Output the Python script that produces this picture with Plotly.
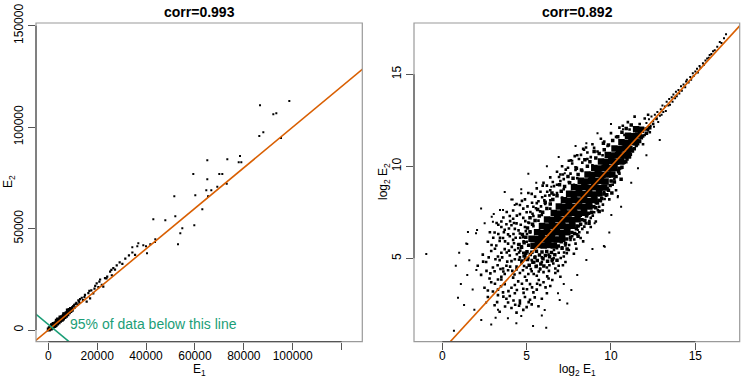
import plotly.graph_objects as go

# ---------------- Left panel: raw expression E1 vs E2 ----------------
raw_core = [(200,300),(600,900),(1000,700),(1300,1600),(1700,1200),(2000,2400),(2400,2000),
            (2700,3100),(3000,2600),(3300,3600),(3600,3200),(3900,4300),(4200,3800),(4500,4900),
            (4800,4500),(5100,5600),(5400,5000),(5700,6300),(6000,5700),(6300,6900),(6600,6400),
            (6900,7600),(7200,7000),(7500,8300),(7800,7800),(8100,9000),(8400,8700),(8700,9800),
            (9000,9400),(9300,10300),(9600,10000),(2200,3000),(3500,4500),(5000,6200),(6500,7800),
            (8000,9600),(1500,2300),(4000,5200),(2800,2300),(5500,5300)]
raw_mid_e1 = [10200,10900,11500,12000,12300,12800,13700,14200,15000,15700,16400,17100,17600,18400,
              19200,19800,20500,21200,21900,22500,23200,24100,25300,26000,26600,27300,28000,29200,
              30300,31500,33000,34400,35500,11200,13000,14800,16800,18900,20900,23800,25800,12600,
              10600,9800]
raw_mid_e2 = [11800,11200,13400,12500,14600,13300,15900,14800,17300,13950,18200,15600,19500,18100,
              21800,23000,21100,24900,22300,21340,25600,26270,28740,27000,30500,29800,31900,33300,
              32600,35200,36800,38200,37000,12900,15200,16200,19300,20400,23800,25400,29600,14100,
              12400,11300]
raw_out_e1 = [86630,98620,92070,93300,86340,87980,95220,65060,73250,78440,77910,78980,59330,69970,
              71200,65060,69150,73000,64650,66700,65350,60150,51560,63020,51970,42970,47880,59740,
              54830,54010,43780,43660,53070,36830,41740,38870,34370,36420,39980,40390]
raw_out_e2 = [110760,112870,106320,106810,95620,97450,94640,83650,84140,85760,82660,82660,76890,
              76890,76890,74280,70630,72110,68860,68860,65900,66390,65900,59490,56040,54560,54070,
              51610,50130,47660,44710,43380,42240,42730,42240,41750,40760,41260,41260,37810]

# reference lines (left): identity and the 95% cut line
ident_left = [-10000, 200000]
cut95_x = [-6000, 9000]
cut95_y = [8750, -6250]

# ---------------- Right panel: log2 E1 vs log2 E2 ----------------
log_core = [
 (5.41,5.68),(5.69,5.72),(6.01,5.69),(6.28,5.73),(6.61,5.7),
 (5.29,6.06),(5.61,6.03),(5.88,6.07),(6.21,6.04),(6.49,6.06),(6.79,6.02),(7.11,6.07),
 (5.62,6.41),(5.89,6.38),(6.22,6.42),(6.51,6.39),(6.79,6.41),(7.09,6.37),(7.41,6.42),
 (5.91,6.76),(6.19,6.73),(6.52,6.77),(6.78,6.74),(7.12,6.76),(7.39,6.72),(7.71,6.77),
 (6.21,7.11),(6.49,7.08),(6.81,7.12),(7.09,7.09),(7.42,7.11),(7.69,7.07),(8.02,7.12),
 (6.61,7.46),(6.88,7.43),(7.21,7.47),(7.49,7.44),(7.82,7.46),(8.09,7.42),(8.41,7.47),
 (6.91,7.81),(7.18,7.78),(7.52,7.82),(7.79,7.79),(8.11,7.81),(8.39,7.77),(8.72,7.82),
 (7.21,8.16),(7.49,8.13),(7.82,8.17),(8.09,8.14),(8.41,8.16),(8.68,8.12),(9.02,8.17),
 (7.52,8.51),(7.79,8.48),(8.12,8.52),(8.38,8.49),(8.71,8.51),(8.99,8.47),(9.31,8.52),
 (7.81,8.86),(8.09,8.83),(8.42,8.87),(8.69,8.84),(9.01,8.86),(9.29,8.82),(9.61,8.85),
 (8.21,9.21),(8.49,9.18),(8.82,9.22),(9.09,9.19),(9.41,9.21),(9.68,9.17),
 (8.61,9.56),(8.88,9.53),(9.21,9.57),(9.49,9.54),(9.81,9.56),(10.08,9.55),
 (9.01,9.91),(9.29,9.88),(9.62,9.92),(9.89,9.89),(10.21,9.91),
 (9.41,10.26),(9.69,10.23),(10.02,10.27),(10.29,10.24),(10.61,10.26),
 (9.81,10.61),(10.09,10.58),(10.42,10.62),(10.69,10.59),(11.01,10.6),
 (10.21,10.96),(10.49,10.93),(10.82,10.97),(11.09,10.94),
 (10.62,11.31),(10.89,11.28),(11.21,11.32),(11.49,11.3),
 (11.01,11.66),(11.29,11.63),(11.62,11.67),
 (11.49,12.01),(11.78,11.98)]

log_fringe = [
 (4.85,5.12),(5.05,4.93),(5.22,5.21),(5.37,4.78),(5.49,5.05),(5.63,4.88),(5.76,5.18),(5.84,4.69),
 (5.97,4.98),(6.11,5.15),(6.24,4.84),(6.36,5.08),(6.52,4.92),(6.67,5.19),(4.72,4.86),(5.15,4.62),
 (5.56,4.55),(6.02,4.58),(4.95,5.28),(6.8,4.9),(5.02,5.36),(5.31,5.33),(5.58,5.38),(5.91,5.34),
 (6.19,5.37),(6.47,5.32),(5.12,5.71),(6.88,5.67),(7.38,6.05),(7.68,6.4),(7.98,6.75),(8.28,7.1),
 (4.7,5.6),(4.85,5.85),(4.55,5.75),(4.95,6.15),(4.75,6.3),(5.2,6.45),(5.05,6.65),(5.35,6.85),
 (5.5,7.05),(5.2,7.2),(5.75,7.3),(5.95,7.5),(5.65,7.65),(6.2,7.7),(6.4,7.95),(6.1,8.05),(6.55,8.2),
 (6.8,8.4),(6.5,8.55),(7.05,8.65),(7.25,8.9),(6.95,9.0),(7.55,9.1),(7.75,9.35),(7.45,9.45),
 (8.05,9.55),(8.25,9.8),(7.95,9.9),(8.6,10.0),(8.75,10.25),(8.45,10.35),(9.1,10.45),(9.3,10.7),
 (9.0,10.8),(9.6,10.9),(9.85,11.15),(9.55,11.25),(10.1,11.4),(10.4,11.6),(10.65,11.85),
 (10.9,12.05),(11.2,12.25),
 (7.1,5.55),(7.3,5.8),(7.05,5.9),(7.6,6.15),(7.85,6.35),(7.95,6.6),(8.2,6.85),(8.45,7.05),
 (8.55,7.3),(8.85,7.5),(9.1,7.75),(9.2,8.0),(9.45,8.25),(9.75,8.45),(9.85,8.7),(9.95,8.95),
 (10.2,9.15),(10.3,9.45),(10.45,9.7),(10.65,9.95),(10.75,10.2),(10.95,10.4),(11.15,10.65),
 (11.25,10.9),(11.5,11.15),(11.7,11.35),(11.8,11.55),(12.1,11.8),(12.3,12.1),(7.4,5.5),(8.05,6.2),
 (8.7,6.9),(9.3,7.55),(10.05,8.55),(10.6,9.3),(8.68,7.45),(8.98,7.8),(9.28,8.15),(9.58,8.5),
 (10.01,9.2),(10.48,9.9),(10.88,10.25),(11.38,10.95),(11.88,11.65),(12.08,12.02)]

log_halo = [
 (3.4,2.1),(4.1,2.3),(4.8,2.2),(5.3,2.5),(3.9,2.6),(4.6,2.55),(5.7,2.4),(3.1,2.45),(4.4,2.05),(5.0,2.35),
 (2.7,2.9),(3.3,3.0),(3.8,2.8),(4.3,3.1),(4.9,2.9),(5.4,3.15),(5.9,2.8),(3.0,3.2),(4.6,2.7),(5.2,2.75),
 (6.2,3.1),(3.6,3.15),(4.0,2.95),
 (2.5,3.4),(2.9,3.7),(3.3,3.3),(3.7,3.6),(4.1,3.4),(4.5,3.75),(4.8,3.35),(5.2,3.6),(5.6,3.3),(6.0,3.7),
 (6.4,3.5),(3.5,3.85),(4.3,3.55),(5.0,3.8),(5.8,3.55),(2.7,3.25),
 (2.3,4.1),(2.8,3.9),(3.1,4.3),(3.5,4.0),(3.9,4.35),(4.2,3.95),(4.6,4.2),(4.9,4.0),(5.3,4.3),(5.6,4.05),
 (6.0,4.25),(6.3,3.9),(6.7,4.2),(7.0,4.0),(3.7,4.15),(4.4,4.4),(5.1,4.15),(5.8,4.4),(3.3,3.85),
 (2.1,4.6),(2.6,4.8),(3.0,4.5),(3.4,4.9),(3.8,4.6),(4.1,4.85),(4.4,4.55),(4.7,4.75),(5.0,4.5),(5.3,4.9),
 (5.6,4.6),(5.9,4.8),(6.2,4.5),(6.5,4.85),(6.9,4.6),(7.3,4.8),(3.6,4.45),(4.9,4.95),(5.8,4.45),(4.3,4.95),
 (6.7,4.45),
 (2.4,5.2),(2.9,5.4),(3.3,5.1),(3.7,5.5),(4.0,5.15),(4.3,5.45),(4.6,5.05),(4.8,5.3),(5.1,5.0),(5.5,5.1),
 (5.9,5.05),(6.3,5.2),(6.6,5.0),(6.9,5.3),(7.2,5.1),(7.5,5.45),(7.8,5.25),(3.5,5.3),(4.5,5.55),(6.8,5.55),
 (7.1,5.6),
 (2.7,5.9),(3.2,5.7),(3.6,6.1),(3.9,5.8),(4.2,6.0),(4.5,5.75),(4.8,6.15),(5.0,5.9),(7.3,5.7),(7.6,6.0),
 (7.9,5.8),(8.2,6.1),(4.0,6.2),(3.4,5.95),(7.7,6.2),(4.7,5.65),
 (3.1,6.4),(3.5,6.7),(3.9,6.3),(4.3,6.6),(4.6,6.35),(4.9,6.7),(5.2,6.4),(5.4,6.75),(8.0,6.3),(8.3,6.6),
 (8.6,6.4),(8.1,6.75),(3.7,6.55),(4.1,6.8),(8.8,6.7),
 (3.5,7.0),(4.0,7.3),(4.4,6.9),(4.8,7.2),(5.1,6.95),(5.4,7.3),(5.7,7.05),(5.9,7.35),(8.5,6.9),(8.8,7.2),
 (9.1,7.0),(8.6,7.35),(4.2,7.15),(4.6,7.4),(3.8,6.85),
 (4.2,7.6),(4.6,7.9),(5.0,7.5),(5.4,7.8),(5.8,7.55),(6.1,7.95),(6.4,7.7),(9.0,7.5),(9.3,7.8),(9.1,8.0),
 (4.8,7.7),(5.6,8.0),(9.5,7.6),(4.4,7.95),
 (4.9,8.2),(5.3,8.5),(5.7,8.1),(6.1,8.4),(6.4,8.15),(6.8,8.55),(7.1,8.3),(9.4,8.1),(9.7,8.4),(9.9,8.2),
 (9.6,8.6),(5.5,8.35),(6.6,8.45),(5.1,8.55),
 (5.6,8.8),(6.0,9.1),(6.4,8.7),(6.8,9.0),(7.2,8.75),(7.5,9.15),(7.8,9.0),(9.8,8.8),(10.1,9.0),(10.3,8.7),
 (6.2,8.95),(7.0,9.2),(10.0,9.2),
 (6.4,9.4),(6.8,9.7),(7.2,9.3),(7.6,9.6),(8.0,9.35),(8.3,9.75),(10.2,9.3),(10.5,9.6),(10.4,9.8),(7.0,9.55),
 (7.9,9.8),
 (7.1,10.0),(7.5,10.3),(7.9,9.95),(8.3,10.2),(8.6,10.4),(8.9,10.05),(10.6,9.9),(10.8,10.2),(10.7,10.4),
 (7.7,10.15),(8.1,10.4),
 (8.0,10.6),(8.4,10.9),(8.8,10.5),(9.2,10.8),(9.5,10.6),(11.1,10.5),(11.3,10.8),(11.0,11.0),(8.6,10.75),
 (9.0,11.0),
 (8.9,11.2),(9.4,11.5),(9.8,11.1),(10.1,11.4),(11.5,11.1),(11.7,11.4),(11.9,11.2),(9.6,11.35),(10.3,11.6),
 (10.0,11.8),(10.5,12.1),(10.8,11.7),(11.1,12.0),(12.0,11.7),(12.2,12.0),(12.3,11.85),(10.7,12.2),
 (11.0,12.4),(11.4,12.7),(11.7,12.3),(12.0,12.6),(12.5,12.3),(12.7,12.6),(12.2,12.8),
 (3.25,2.62),(3.72,2.38),(4.22,2.71),(4.55,2.42),(5.12,2.62),(5.48,2.88),(3.48,3.48),(3.92,3.22),
 (4.42,3.28),(4.72,3.62),(5.32,3.42),(5.72,3.82),(6.12,3.42),(2.85,4.18),(3.28,4.62),(3.62,4.28),
 (4.02,4.55),(4.28,4.12),(4.78,4.35),(5.18,4.62),(5.42,4.15),(5.72,4.28),(6.32,4.32),(6.58,4.72),
 (2.75,5.05),(3.12,5.52),(3.55,5.05),(3.82,5.32),(4.12,5.62),(4.42,5.22),(4.62,5.42),(4.92,5.12),
 (7.02,5.02),(7.38,5.28),(3.02,6.12),(3.32,6.32),(3.72,5.92),(4.22,6.32),(4.52,6.52),(4.82,5.92),
 (3.32,6.82),(3.62,7.22),(4.02,7.02),(4.42,7.32),(4.92,7.02),(5.22,7.52),(4.62,6.12),(5.02,6.32),
 (3.82,7.52),(4.72,8.12),(5.32,8.02),(5.92,8.32),(6.22,8.62),(6.62,8.92),(5.82,8.62),(6.92,9.42),
 (7.32,9.82),(7.62,10.32),(8.22,10.62),(8.52,11.02),
 (3.15,4.95),(3.45,4.42),(3.85,4.82),(4.15,4.32),(4.55,4.92),(4.85,4.58),(5.25,4.42),(5.45,4.78),
 (3.95,5.42),(4.25,5.82),(4.55,5.32),(4.35,6.12),(4.65,6.82),(4.95,6.48),(5.15,6.92),(4.25,6.92),
 (3.65,6.42),(3.95,6.62),(5.35,7.42),(5.05,7.82),(5.55,7.72),(5.85,7.82),(6.05,8.15),(6.35,8.42),
 (5.95,8.95),(6.55,9.15),(7.15,9.55),(7.45,9.92),(7.85,10.55),(8.35,10.95),(6.62,5.45),(7.22,5.32),
 (7.52,5.72),(7.82,6.02),(8.12,6.42),(8.42,6.72),(8.72,7.02),(8.92,7.32),(9.22,7.62),(9.52,7.92),
 (9.62,8.22),(7.95,5.52),(8.35,5.92),(6.35,4.62),(6.85,4.32),(7.15,4.62),(3.12,3.62),(2.62,4.32),
 (2.42,4.82),(2.92,5.72),(3.42,6.12),(2.82,6.42),(3.22,6.92),(4.82,3.12),(5.62,3.62),(6.52,3.82),
 (6.22,4.02),(5.02,3.32),(4.32,2.48),(3.62,2.92)]

log_sparse = [
 (-0.95,5.23),(0.69,1.07),(6.16,1.23),(5.38,1.32),(4.39,1.47),(3.16,1.77),(2.31,1.65),(0.93,2.86),
 (1.29,2.46),(1.48,4.09),(2.02,4.36),(1.52,6.43),(1.42,5.81),(2.06,6.54),(2.51,6.9),(3.0,6.99),
 (3.05,7.41),(3.6,7.63),(4.29,7.9),(4.09,8.2),(4.68,8.53),(3.89,1.74),(4.68,1.86),(6.07,2.19),
 (6.96,2.73),(7.41,2.55),(8.54,4.91),(9.63,5.63),(10.02,7.35),(10.41,8.39),(9.03,6.9),(8.04,6.54),
 (7.65,3.28),(6.86,3.1),(8.54,11.25),(10.71,12.01),(12.89,11.43),(5.57,9.11),(6.46,8.89),(7.26,9.62),
 (4.68,8.75),(7.71,10.3),(4.17,8.2),(3.42,7.63),(2.93,7.26),(2.0,6.36),(1.48,5.78),(9.58,5.67),
 (10.4,8.32),(2.9,1.4),(1.8,3.3),(1.1,3.6),(0.8,4.6),(1.9,2.2),(5.9,1.9),(7.2,3.6),(8.0,4.1),
 (8.9,5.5),(9.9,6.4),(10.6,7.8),(11.2,9.1),(11.6,9.9),(12.1,10.6),(3.3,2.2),(2.6,2.6),(1.6,4.9),
 (1.0,5.3),(2.3,7.7),(3.7,8.6),(5.1,9.6),(6.2,10.0),(6.9,10.5),(7.9,11.1),(9.2,11.8),(10.0,12.3)]

log_high = [
 (12.1,12.35),(12.2,11.95),(12.25,12.55),(12.35,12.2),(12.4,12.7),(12.5,12.45),(12.55,12.15),
 (12.6,12.8),(12.7,12.55),(12.75,12.95),(12.8,12.4),(12.9,12.75),(12.95,13.1),(13.0,12.8),
 (13.05,13.3),(13.1,12.95),(13.2,13.25),(13.25,13.0),(13.3,13.5),(13.4,13.3),(13.45,13.65),
 (13.5,13.35),(13.6,13.75),(13.65,13.5),(13.7,13.9),(13.8,13.7),(13.85,14.05),(13.9,13.8),
 (14.0,14.15),(14.05,13.95),(14.15,14.35),(14.2,14.1),(14.3,14.45),(14.4,14.3),(14.45,14.6),
 (14.5,14.7),(14.6,14.55),(14.7,14.85),(14.75,14.7),(14.85,15.05),(14.9,14.9),(15.0,15.15),
 (15.1,15.3),(15.15,15.1),(15.25,15.45),(15.3,15.35),(15.45,15.6),(15.5,15.5),(15.6,15.75),
 (15.7,15.85),(15.8,15.9),(15.85,16.05),(15.95,16.1),(16.05,16.25),(16.15,16.3),(16.3,16.5),
 (16.45,16.75),(16.55,16.7),(16.7,16.95),(16.82,17.17)]

ident_right = [-3, 20]

titles = ["corr=0.993", "corr=0.892"]
left_xticks = [0, 20000, 40000, 60000, 80000, 100000, 120000]
left_xticktext = ["0", "20000", "40000", "60000", "80000", "100000", ""]
left_yticks = [0, 50000, 100000, 150000]
right_xticks = [0, 5, 10, 15]
right_yticks = [5, 10, 15]

ORANGE = "#d95f02"
GREEN = "#1b9e77"
FONT = "Liberation Sans, Arial, Helvetica, sans-serif"

def xs(pts):
    return [p[0] for p in pts]

def ys(pts):
    return [p[1] for p in pts]

fig = go.Figure()

def dots(x, y, size, xa, ya):
    fig.add_trace(go.Scatter(x=x, y=y, mode="markers", xaxis=xa, yaxis=ya,
                             marker=dict(symbol="square", size=size, color="black",
                                         line=dict(width=0)),
                             hoverinfo="skip"))

# left
dots(raw_out_e1, raw_out_e2, 2, "x", "y")
dots(raw_mid_e1, raw_mid_e2, 2.2, "x", "y")
dots(xs(raw_core), ys(raw_core), 4, "x", "y")
fig.add_trace(go.Scatter(x=ident_left, y=ident_left, mode="lines", xaxis="x", yaxis="y",
                         line=dict(color=ORANGE, width=1.6), hoverinfo="skip"))
fig.add_trace(go.Scatter(x=cut95_x, y=cut95_y, mode="lines", xaxis="x", yaxis="y",
                         line=dict(color=GREEN, width=1.6), hoverinfo="skip"))

# right
dots(xs(log_sparse), ys(log_sparse), 2, "x2", "y2")
dots(xs(log_high), ys(log_high), 2, "x2", "y2")
dots(xs(log_halo), ys(log_halo), 2.6, "x2", "y2")
dots(xs(log_fringe), ys(log_fringe), 3.5, "x2", "y2")
dots(xs(log_core), ys(log_core), 6.5, "x2", "y2")
fig.add_trace(go.Scatter(x=ident_right, y=ident_right, mode="lines", xaxis="x2", yaxis="y2",
                         line=dict(color=ORANGE, width=1.6), hoverinfo="skip"))

W, H = 756, 378
ydom = [(H - 341.7) / H, (H - 23) / H]
tickstyle = dict(ticks="outside", ticklen=7, tickwidth=1, tickcolor="#555",
                 showgrid=False, zeroline=False, showline=False, automargin=False,
                 tickfont=dict(size=12, color="black", family=FONT))

fig.update_layout(
    template="none",
    width=W, height=H, autosize=False, margin=dict(l=0, r=0, t=0, b=0, pad=0),
    paper_bgcolor="white", plot_bgcolor="white", showlegend=False,
    font=dict(family=FONT, color="black"),
    xaxis=dict(domain=[36 / W, 362.3 / W], range=[-5033, 128480], anchor="y",
               tickvals=left_xticks, ticktext=left_xticktext, ticklabelstandoff=-4, **tickstyle),
    yaxis=dict(domain=ydom, range=[-5767, 151330], anchor="x",
               tickvals=left_yticks, ticktext=[str(v) for v in left_yticks],
               tickangle=-90, **tickstyle),
    xaxis2=dict(domain=[414 / W, 739.7 / W], range=[-1.678, 17.63], anchor="y2",
                tickvals=right_xticks, ticktext=[str(v) for v in right_xticks],
                ticklabelstandoff=-4, **tickstyle),
    yaxis2=dict(domain=ydom, range=[0.47, 17.785], anchor="x2",
                tickvals=right_yticks, ticktext=[str(v) for v in right_yticks],
                tickangle=-90, **tickstyle),
)

shapes = []
for xr, yr in (("x", "y"), ("x2", "y2")):
    shapes.append(dict(type="rect", xref=xr + " domain", yref=yr + " domain",
                       x0=0, x1=1, y0=0, y1=1, line=dict(color="#9a9a9a", width=1.2)))
# axis lines spanning first to last tick
shapes.append(dict(type="line", xref="x", yref="y domain", x0=left_xticks[0], x1=left_xticks[-1],
                   y0=0, y1=0, line=dict(color="#555", width=1.2)))
shapes.append(dict(type="line", xref="x domain", yref="y", x0=0, x1=0,
                   y0=left_yticks[0], y1=left_yticks[-1], line=dict(color="#555", width=1.2)))
shapes.append(dict(type="line", xref="x2", yref="y2 domain", x0=right_xticks[0], x1=right_xticks[-1],
                   y0=0, y1=0, line=dict(color="#555", width=1.2)))
shapes.append(dict(type="line", xref="x2 domain", yref="y2", x0=0, x1=0,
                   y0=right_yticks[0], y1=right_yticks[-1], line=dict(color="#555", width=1.2)))
fig.update_layout(shapes=shapes)

def ann(text, x, y, size=12, angle=0, bold=False, **kw):
    t = "<b>%s</b>" % text if bold else text
    d = dict(text=t, x=x / W, y=1 - y / H, xref="paper", yref="paper", showarrow=False,
             xanchor="center", yanchor="middle", textangle=angle, borderpad=0,
             font=dict(size=size, family=FONT, color="black"))
    d.update(kw)
    return d

annotations = [
    ann(titles[0], 199, 12.5, size=14, bold=True),
    ann(titles[1], 577, 12.5, size=14, bold=True),
    ann("E<sub>1</sub>", 199, 369.5, size=12),
    ann("E<sub>2</sub>", 9, 182, size=12, angle=-90),
    ann("log<sub>2</sub> E<sub>1</sub>", 577, 369.5, size=12),
    ann("log<sub>2</sub> E<sub>2</sub>", 384, 182, size=12, angle=-90),
    dict(text="95% of data below this line", x=8000, y=2800, xref="x", yref="y",
         showarrow=False, xanchor="left", yanchor="middle",
         font=dict(size=14, family=FONT, color=GREEN)),
]
fig.update_layout(annotations=annotations)

fig.write_html("out.html", config={"displayModeBar": False},
               post_script="document.body.style.margin='0px';document.body.style.overflow='hidden';")
